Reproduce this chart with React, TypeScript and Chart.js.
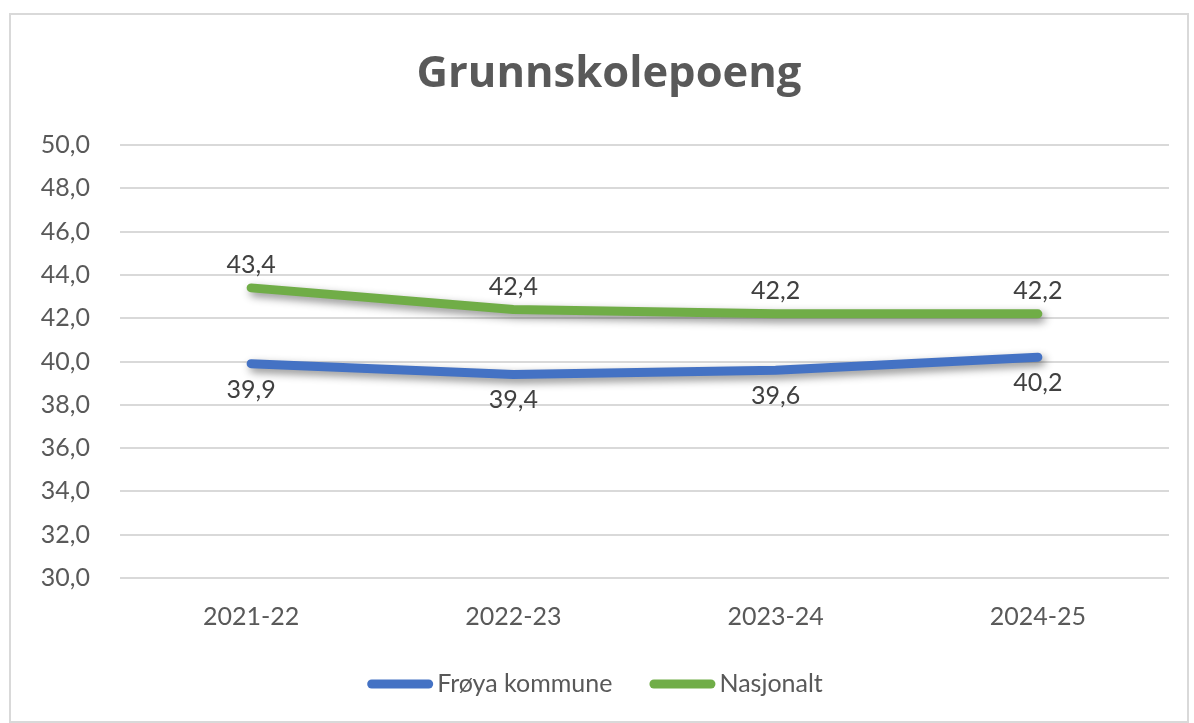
import React, { useEffect, useRef } from "react";
import { Chart, registerables } from "chart.js";

Chart.register(...registerables);

const chartTitle = "Grunnskolepoeng";
const categories = ["2021-22", "2022-23", "2023-24", "2024-25"];
const froyaValues = [39.9, 39.4, 39.6, 40.2];
const nasjonaltValues = [43.4, 42.4, 42.2, 42.2];
const seriesNames = ["Frøya kommune", "Nasjonalt"];
const seriesColors = ["#4472C4", "#70AD47"];
const yMin = 30;
const yMax = 50;
const yStep = 2;

const FONT = "Lato, 'Open Sans', sans-serif";
const TITLE_FONT = "'Open Sans', Lato, sans-serif";
const fmt = (v: number) => v.toFixed(1).replace(".", ",");

const framePlugin = {
  id: "frame",
  beforeDraw(chart: any) {
    const ctx = chart.ctx;
    ctx.save();
    ctx.fillStyle = "#ffffff";
    ctx.fillRect(0, 0, chart.width, chart.height);
    ctx.strokeStyle = "#d9d9d9";
    ctx.lineWidth = 2;
    ctx.strokeRect(10, 14, 1178, 708);
    ctx.restore();
  },
};

const shadowPlugin = {
  id: "lineShadow",
  beforeDatasetDraw(chart: any) {
    const ctx = chart.ctx;
    ctx.save();
    ctx.shadowColor = "rgba(0,0,0,0.45)";
    ctx.shadowBlur = 8;
    ctx.shadowOffsetX = 3;
    ctx.shadowOffsetY = 4;
  },
  afterDatasetDraw(chart: any) {
    chart.ctx.restore();
  },
};

const dataLabelPlugin = {
  id: "dataLabels",
  afterDatasetsDraw(chart: any) {
    const ctx = chart.ctx;
    ctx.save();
    ctx.font = `25px ${FONT}`;
    ctx.fillStyle = "#404040";
    ctx.textAlign = "center";
    ctx.textBaseline = "alphabetic";
    chart.data.datasets.forEach((ds: any, di: number) => {
      const meta = chart.getDatasetMeta(di);
      meta.data.forEach((pt: any, i: number) => {
        const v = ds.data[i] as number;
        const y = di === 0 ? pt.y + 34 : pt.y - 15;
        ctx.fillText(fmt(v), pt.x, y);
      });
    });
    ctx.restore();
  },
};

const titleLegendPlugin = {
  id: "titleLegend",
  afterDraw(chart: any) {
    const ctx = chart.ctx;
    ctx.save();
    // title
    ctx.font = `bold 43.5px ${TITLE_FONT}`;
    ctx.fillStyle = "#595959";
    ctx.textAlign = "center";
    ctx.textBaseline = "alphabetic";
    ctx.fillText(chartTitle, 609, 87);
    // legend
    ctx.font = `25px ${FONT}`;
    const boxW = 66;
    const gap = 4;
    const itemGap = 37;
    const widths = chart.data.datasets.map(
      (ds: any) => boxW + gap + ctx.measureText(ds.label).width
    );
    const total = widths.reduce((a: number, b: number) => a + b, 0) + itemGap * (widths.length - 1);
    let x = 595 - total / 2;
    ctx.textAlign = "left";
    chart.data.datasets.forEach((ds: any, i: number) => {
      ctx.strokeStyle = ds.borderColor;
      ctx.lineWidth = 9;
      ctx.lineCap = "round";
      ctx.beginPath();
      ctx.moveTo(x + 4.5, 684);
      ctx.lineTo(x + boxW - 4.5, 684);
      ctx.stroke();
      ctx.fillStyle = "#595959";
      ctx.fillText(ds.label, x + boxW + gap, 692);
      x += widths[i] + itemGap;
    });
    ctx.restore();
  },
};

export default function App() {
  const canvasRef = useRef<HTMLCanvasElement | null>(null);

  useEffect(() => {
    if (!canvasRef.current) return;
    const chart = new Chart(canvasRef.current, {
      type: "line",
      data: {
        labels: categories,
        datasets: [
          {
            label: seriesNames[0],
            data: froyaValues,
            borderColor: seriesColors[0],
            backgroundColor: seriesColors[0],
            borderWidth: 9,
            borderCapStyle: "round",
            borderJoinStyle: "round",
            pointRadius: 0,
            tension: 0,
          },
          {
            label: seriesNames[1],
            data: nasjonaltValues,
            borderColor: seriesColors[1],
            backgroundColor: seriesColors[1],
            borderWidth: 9,
            borderCapStyle: "round",
            borderJoinStyle: "round",
            pointRadius: 0,
            tension: 0,
          },
        ],
      },
      options: {
        animation: false,
        responsive: false,
        devicePixelRatio: 1,
        layout: { padding: { top: 145, left: 20, right: 25, bottom: 85 } },
        plugins: {
          legend: { display: false },
          title: { display: false },
          tooltip: { enabled: false },
        },
        scales: {
          x: {
            offset: true,
            grid: { display: false, drawTicks: false },
            border: { display: false },
            ticks: {
              color: "#595959",
              font: { family: FONT, size: 25 },
              padding: 24,
            },
            afterFit: (s: any) => {
              s.height = 60;
            },
          },
          y: {
            min: yMin,
            max: yMax,
            grid: { color: "#d9d9d9", lineWidth: 2, drawTicks: false },
            border: { display: false },
            ticks: {
              stepSize: yStep,
              color: "#595959",
              font: { family: FONT, size: 25 },
              padding: 30,
              callback: (v: any) => fmt(Number(v)),
            },
            afterFit: (s: any) => {
              s.width = 100;
            },
          },
        },
      },
      plugins: [framePlugin, shadowPlugin, dataLabelPlugin, titleLegendPlugin],
    });
    return () => chart.destroy();
  }, []);

  return (
    <div style={{ position: "absolute", left: 0, top: 0, width: 1194, height: 723 }}>
      <canvas ref={canvasRef} width={1194} height={723} style={{ display: "block" }} />
    </div>
  );
}
